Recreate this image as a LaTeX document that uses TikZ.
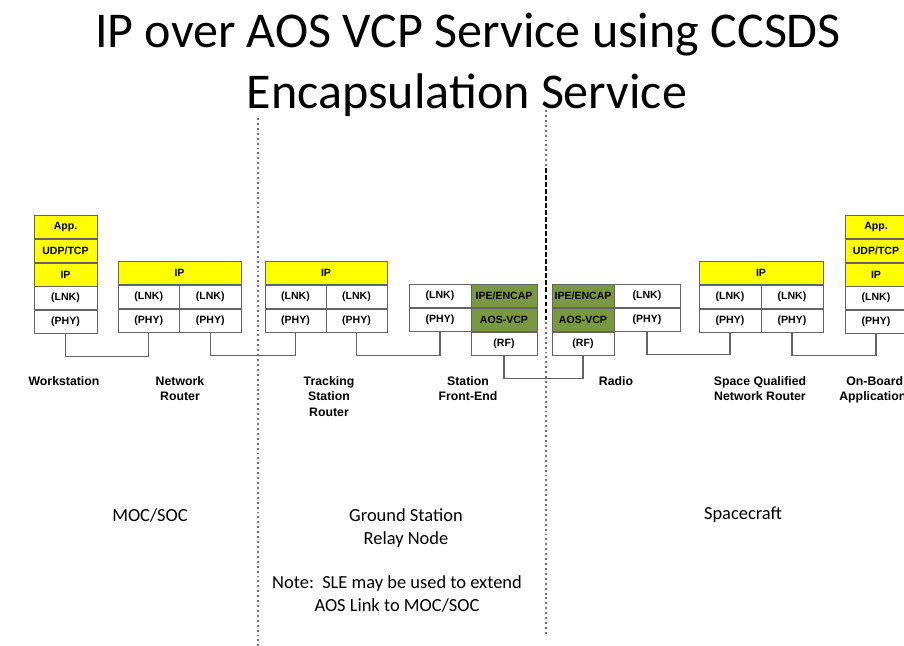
\documentclass[tikz,border=0pt]{standalone}
\usepackage{fontspec}
\setmainfont{Liberation Sans}
\newfontfamily\slidefont{Carlito}
\usetikzlibrary{positioning}
\definecolor{ipyellow}{RGB}{255,255,0}
\definecolor{aosgreen}{RGB}{122,152,66}
\definecolor{boxgray}{RGB}{100,100,100}

\begin{document}
\begin{tikzpicture}[x=0.02cm,y=-0.02cm,
    cell/.style={draw=boxgray,fill=white,minimum height=0.46cm,inner sep=0pt,
      font=\fontsize{6}{7}\selectfont\bfseries},
    wd/.style={minimum width=#1*0.02cm},
    ipcell/.style={cell,fill=ipyellow},
    aoscell/.style={cell,fill=aosgreen},
    wire/.style={draw=boxgray,line width=0.6pt},
    devname/.style={anchor=north,align=center,inner sep=0pt,
      font=\fontsize{7}{8.8}\selectfont\bfseries},
    area/.style={align=center,inner sep=0pt,font=\slidefont\fontsize{10.5}{13}\selectfont},
    divider/.style={draw=black!55,line width=0.8pt,dash pattern=on 1.1pt off 1.7pt},
    linkdash/.style={draw=black,line width=1.1pt,dash pattern=on 2.6pt off 1.4pt}]
  \useasboundingbox (0,0) rectangle (904,646);

  % Title
  \node[anchor=base,inner sep=0pt,font=\slidefont\fontsize{28.5}{34}\selectfont] (title1) at (468,47) {IP over AOS VCP Service using CCSDS};
  \node[anchor=base,inner sep=0pt,font=\slidefont\fontsize{28.5}{34}\selectfont] (title2) at (467,108) {Encapsulation Service};

  % Boundaries between MOC/SOC, ground station and spacecraft
  \draw[divider] (258,118) -- (258,646);
  \draw[divider] (546,110) -- (546,168);
  \draw[linkdash] (546,168) -- (546,322);
  \draw[divider] (546,322) -- (546,636);

  % Workstation
  \node[ipcell,wd=63] (ws-app) at (65.5,227) {App.};
  \node[ipcell,wd=63,below=0pt of ws-app] (ws-udp) {UDP/TCP};
  \node[ipcell,wd=63,below=0pt of ws-udp] (ws-ip) {IP};
  \node[cell,wd=63,below=0pt of ws-ip] (ws-lnk) {(LNK)};
  \node[cell,wd=63,below=0pt of ws-lnk] (ws-phy) {(PHY)};

  % Network router
  \node[ipcell,wd=123] (nr-ip) at (179.5,273) {IP};
  \node[cell,wd=61.5,anchor=north west] (nr-lnk1) at (nr-ip.south west) {(LNK)};
  \node[cell,wd=61.5,anchor=north east] (nr-lnk2) at (nr-ip.south east) {(LNK)};
  \node[cell,wd=61.5,below=0pt of nr-lnk1] (nr-phy1) {(PHY)};
  \node[cell,wd=61.5,below=0pt of nr-lnk2] (nr-phy2) {(PHY)};

  % Tracking station router
  \node[ipcell,wd=122] (tr-ip) at (326,273) {IP};
  \node[cell,wd=61,anchor=north west] (tr-lnk1) at (tr-ip.south west) {(LNK)};
  \node[cell,wd=61,anchor=north east] (tr-lnk2) at (tr-ip.south east) {(LNK)};
  \node[cell,wd=61,below=0pt of tr-lnk1] (tr-phy1) {(PHY)};
  \node[cell,wd=61,below=0pt of tr-lnk2] (tr-phy2) {(PHY)};

  % Station front-end
  \node[cell,wd=62] (fe-lnk) at (440,296) {(LNK)};
  \node[cell,wd=62,below=0pt of fe-lnk] (fe-phy) {(PHY)};
  \node[aoscell,wd=66] (fe-encap) at (504,296) {IPE/ENCAP};
  \node[aoscell,wd=66,below=0pt of fe-encap] (fe-vcp) {AOS-VCP};
  \node[cell,wd=66,below=0pt of fe-vcp] (fe-rf) {(RF)};

  % Radio
  \node[aoscell,wd=62] (ra-encap) at (583,296) {IPE/ENCAP};
  \node[aoscell,wd=62,below=0pt of ra-encap] (ra-vcp) {AOS-VCP};
  \node[cell,wd=62,below=0pt of ra-vcp] (ra-rf) {(RF)};
  \node[cell,wd=66] (ra-lnk) at (647,296) {(LNK)};
  \node[cell,wd=66,below=0pt of ra-lnk] (ra-phy) {(PHY)};

  % Space qualified network router
  \node[ipcell,wd=124] (sr-ip) at (761,273) {IP};
  \node[cell,wd=62,anchor=north west] (sr-lnk1) at (sr-ip.south west) {(LNK)};
  \node[cell,wd=62,anchor=north east] (sr-lnk2) at (sr-ip.south east) {(LNK)};
  \node[cell,wd=62,below=0pt of sr-lnk1] (sr-phy1) {(PHY)};
  \node[cell,wd=62,below=0pt of sr-lnk2] (sr-phy2) {(PHY)};

  % On-board application
  \node[ipcell,wd=62] (ob-app) at (876,227) {App.};
  \node[ipcell,wd=62,below=0pt of ob-app] (ob-udp) {UDP/TCP};
  \node[ipcell,wd=62,below=0pt of ob-udp] (ob-ip) {IP};
  \node[cell,wd=62,below=0pt of ob-ip] (ob-lnk) {(LNK)};
  \node[cell,wd=62,below=0pt of ob-lnk] (ob-phy) {(PHY)};

  % Links
  \draw[wire] (ws-phy.south) -- ++(0,23) -| (nr-phy1.south);
  \draw[wire] (nr-phy2.south) -- ++(0,23) -| (tr-phy1.south);
  \draw[wire] (tr-phy2.south) -- ++(0,23) -| (fe-phy.south);
  \draw[wire] (fe-rf.south) -- ++(0,23) -| (ra-rf.south);
  \draw[wire] (ra-phy.south) -- ++(0,23) -| (sr-phy1.south);
  \draw[wire] (sr-phy2.south) -- ++(0,23) -| (ob-phy.south);

  % Device names
  \node[devname] (ws-name) at (64,376) {Workstation};
  \node[devname] (nr-name) at (180,376) {Network\\Router};
  \node[devname] (tr-name) at (329,376) {Tracking\\Station\\Router};
  \node[devname] (fe-name) at (468,376) {Station\\Front-End};
  \node[devname] (ra-name) at (616,376) {Radio};
  \node[devname] (sr-name) at (760,376) {Space Qualified\\Network Router};
  \node[devname,align=left,anchor=north west] (ob-name) at (839,376) {\hspace*{4pt}On-Board\\Application};

  % Areas
  \node[area] (moc) at (150,515) {MOC/SOC};
  \node[area,anchor=north] (gs) at (406,508) {Ground Station\\Relay Node};
  \node[area] (sc) at (743,515) {Spacecraft};
  \node[area,anchor=north] (note) at (397,575) {Note:\ \ SLE may be used to extend\\AOS Link to MOC/SOC};
\end{tikzpicture}
\end{document}
